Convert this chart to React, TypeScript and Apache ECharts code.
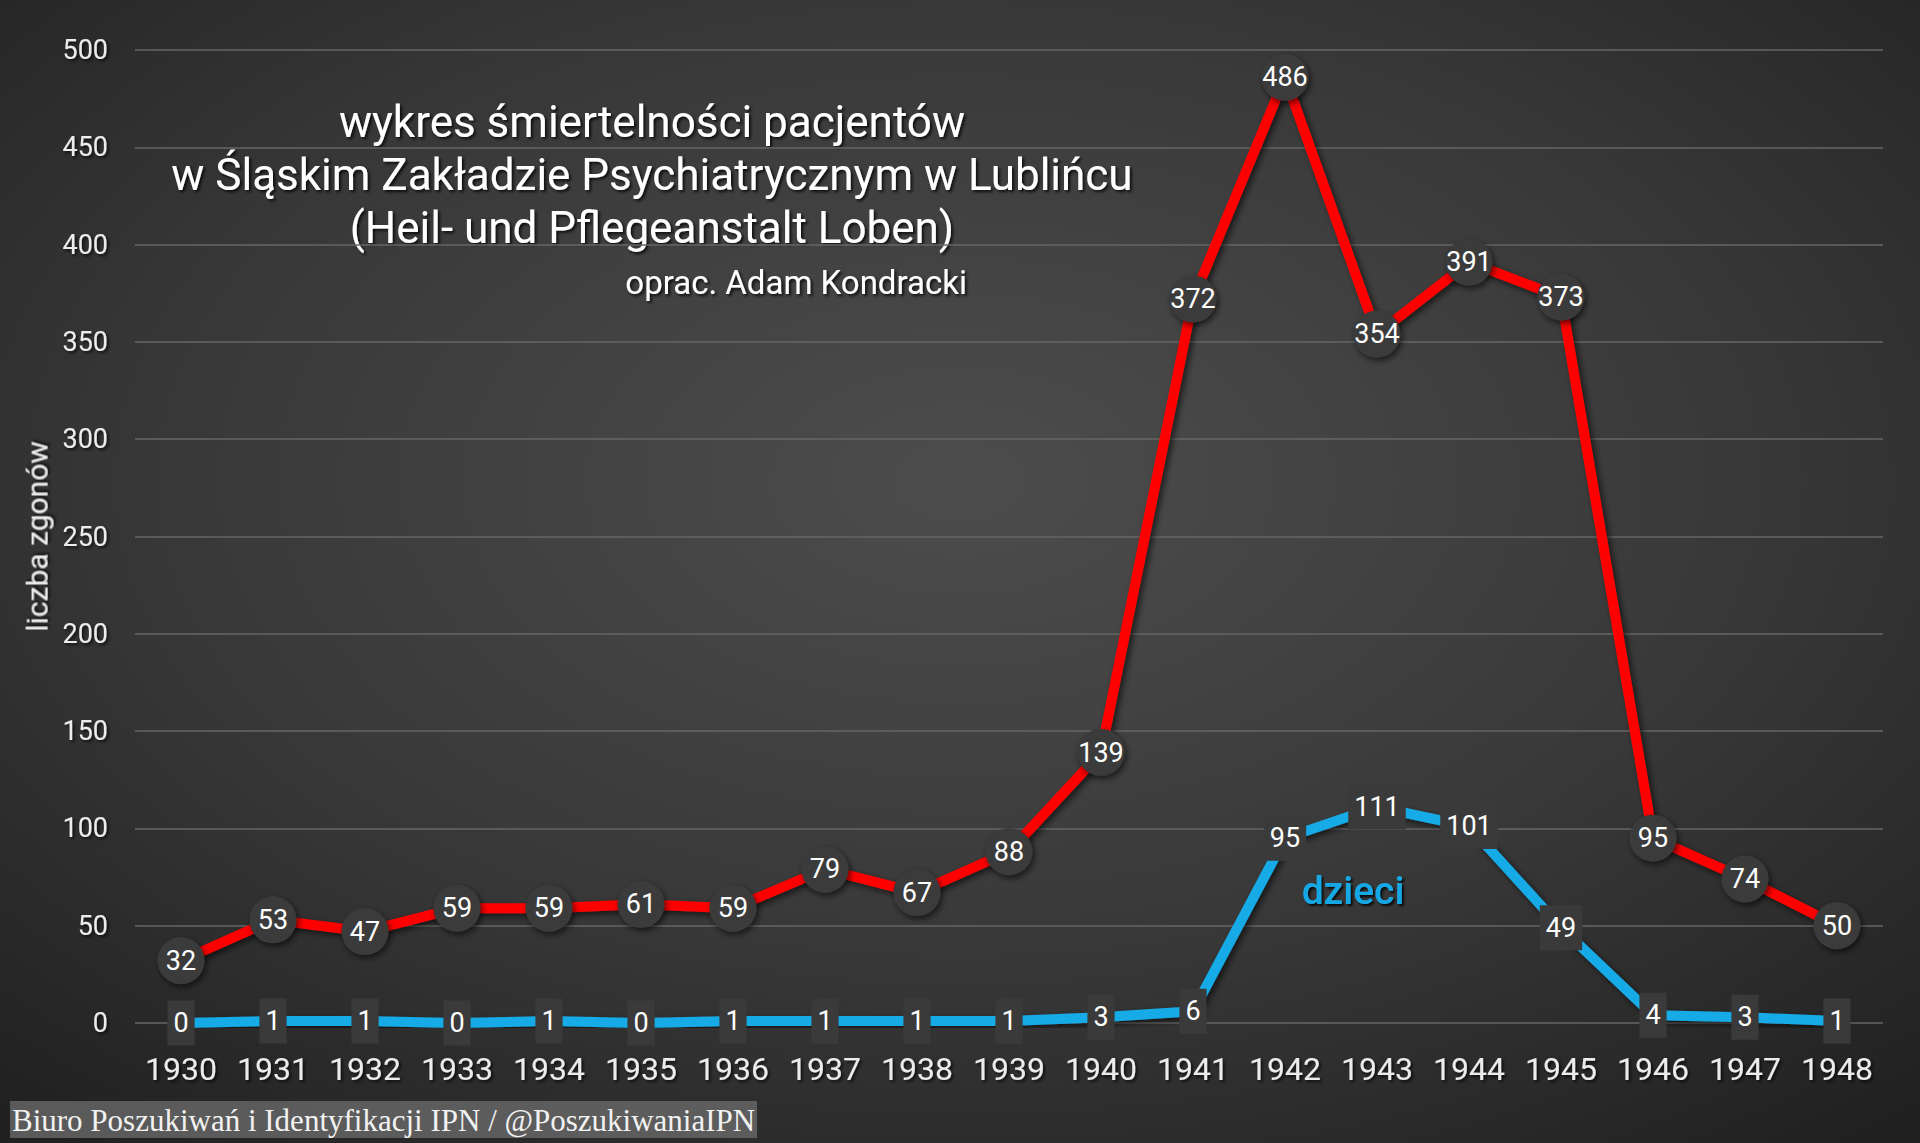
import React, { useEffect, useRef } from "react";
import * as echarts from "echarts";

const years = ["1930","1931","1932","1933","1934","1935","1936","1937","1938","1939","1940","1941","1942","1943","1944","1945","1946","1947","1948"];
const patients = [32, 53, 47, 59, 59, 61, 59, 79, 67, 88, 139, 372, 486, 354, 391, 373, 95, 74, 50];
const children = [0, 1, 1, 0, 1, 0, 1, 1, 1, 1, 3, 6, 95, 111, 101, 49, 4, 3, 1];
const titleLines = [
  "wykres śmiertelności pacjentów",
  "w Śląskim Zakładzie Psychiatrycznym w Lublińcu",
  "(Heil- und Pflegeanstalt Loben)",
];
const author = "oprac. Adam Kondracki";
const yAxisName = "liczba zgonów";
const childrenLabel = "dzieci";
const credit = "Biuro Poszukiwań i Identyfikacji IPN / @PoszukiwaniaIPN";

const NARROW = "'Roboto', 'Noto Sans', sans-serif";
const TITLE_FONT = "'Roboto', 'Noto Sans', sans-serif";

export default function App() {
  const ref = useRef<HTMLDivElement>(null);
  useEffect(() => {
    if (!ref.current) return;
    const chart = echarts.init(ref.current, null, { renderer: "svg" });
    const shadowText = { textShadowColor: "rgba(0,0,0,0.7)", textShadowBlur: 3, textShadowOffsetX: 2, textShadowOffsetY: 2 };
    const titleShadow = { textShadowColor: "rgba(0,0,0,0.8)", textShadowBlur: 3, textShadowOffsetX: 2, textShadowOffsetY: 2 };
    chart.setOption({
      animation: false,
      backgroundColor: {
        type: "radial",
        x: 0.5,
        y: 0.42,
        r: 0.75,
        colorStops: [
          { offset: 0, color: "#4d4d4d" },
          { offset: 0.55, color: "#383838" },
          { offset: 1, color: "#202020" },
        ],
      },
      grid: { left: 135, right: 37, top: 50, bottom: 120, containLabel: false },
      xAxis: {
        type: "category",
        data: years,
        boundaryGap: true,
        axisLine: { show: false },
        axisTick: { show: false },
        axisLabel: { interval: 0, color: "#ececec", fontSize: 32, fontFamily: NARROW, margin: 30, ...shadowText },
        splitLine: { show: false },
      },
      yAxis: {
        type: "value",
        min: 0,
        max: 500,
        interval: 50,
        name: yAxisName,
        nameLocation: "middle",
        nameGap: 82,
        nameRotate: 90,
        nameTextStyle: { color: "#ececec", fontSize: 30, fontFamily: TITLE_FONT, ...shadowText },
        axisLine: { show: false },
        axisTick: { show: false },
        axisLabel: { color: "#ececec", fontSize: 27, fontFamily: NARROW, margin: 27, ...shadowText },
        splitLine: { lineStyle: { color: "#666666", width: 1.5 } },
      },
      series: [
        {
          name: "pacjenci",
          type: "line",
          data: patients,
          z: 3,
          symbol: "circle",
          symbolSize: 47,
          lineStyle: { color: "#ff0000", width: 10, shadowColor: "rgba(0,0,0,0.6)", shadowBlur: 6, shadowOffsetX: 3, shadowOffsetY: 3 },
          itemStyle: { color: "#3a3a3a", borderWidth: 0, shadowColor: "rgba(0,0,0,0.6)", shadowBlur: 6, shadowOffsetX: 2, shadowOffsetY: 3 },
          label: { show: true, position: "inside", color: "#ffffff", fontSize: 27, fontFamily: NARROW },
        },
        {
          name: "dzieci",
          type: "line",
          data: children,
          z: 2,
          symbol: "rect",
          symbolSize: 2,
          lineStyle: { color: "#17aae6", width: 10, shadowColor: "rgba(0,0,0,0.6)", shadowBlur: 6, shadowOffsetX: 3, shadowOffsetY: 3 },
          itemStyle: { color: "#3a3a3a" },
          label: {
            show: true,
            position: "inside",
            color: "#ffffff",
            fontSize: 27,
            fontFamily: NARROW,
            backgroundColor: "#3a3a3a",
            padding: [10, 6, 8, 6],
          },
        },
      ],
      graphic: [
        ...titleLines.map((t, i) => ({
          type: "text",
          style: {
            text: t,
            x: 652,
            y: 122 + i * 53,
            align: "center",
            verticalAlign: "middle",
            fill: "#ffffff",
            font: `44px ${TITLE_FONT}`,
            ...titleShadow,
          },
        })),
        {
          type: "text",
          style: {
            text: author,
            x: 967,
            y: 282,
            align: "right",
            verticalAlign: "middle",
            fill: "#ffffff",
            font: `33px ${TITLE_FONT}`,
            ...titleShadow,
          },
        },
        {
          type: "text",
          style: {
            text: childrenLabel,
            x: 1353,
            y: 891,
            align: "center",
            verticalAlign: "middle",
            fill: "#18a8e4",
            font: `500 39px ${TITLE_FONT}`,
            textShadowColor: "rgba(0,0,0,0.85)",
            textShadowBlur: 2,
            textShadowOffsetX: 2,
            textShadowOffsetY: 2,
          },
        },
        {
          type: "rect",
          shape: { x: 10, y: 1101, width: 747, height: 37 },
          style: { fill: "rgba(110,110,110,0.75)" },
        },
        {
          type: "text",
          style: {
            text: credit,
            x: 12,
            y: 1120,
            align: "left",
            verticalAlign: "middle",
            fill: "#f2f2f2",
            font: `31px 'Liberation Serif', 'DejaVu Serif', serif`,
          },
        },
      ],
    });
    return () => chart.dispose();
  }, []);
  return <div ref={ref} style={{ position: "absolute", left: 0, top: 0, width: 1920, height: 1143 }} />;
}
